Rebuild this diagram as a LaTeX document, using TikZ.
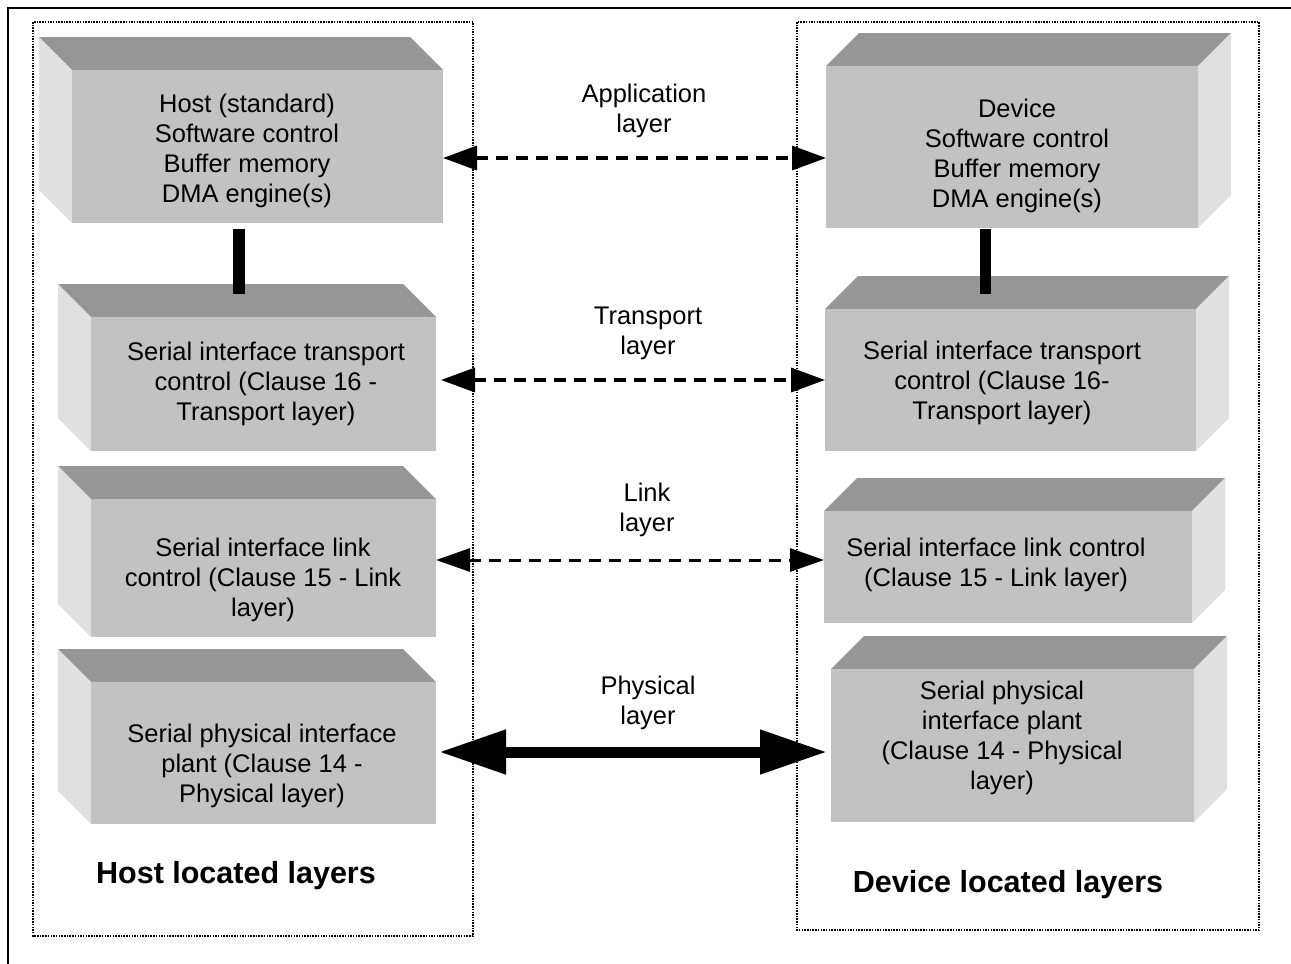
\documentclass[tikz,border=0pt]{standalone}
\usepackage{fontspec}
\setmainfont{Liberation Sans}
\usetikzlibrary{arrows.meta,calc}
\definecolor{topc}{gray}{0.59}
\definecolor{frontc}{gray}{0.76}
\definecolor{sidec}{gray}{0.88}
\tikzset{
  front/.style={fill=frontc, draw=none, inner sep=0pt, outer sep=0pt, rectangle},
  boxtext/.style={align=center, font=\fontsize{25.5}{30}\selectfont, inner sep=0pt, yshift=-3pt},
  sidetitle/.style={font=\fontsize{30.5}{36}\selectfont\bfseries, inner sep=0pt, yshift=-3pt},
  dotframe/.style={draw=black, line width=1.5pt, dash pattern=on 1.5pt off 1.2pt},
  dasharrow/.style={line width=3.5pt, dash pattern=on 12pt off 8pt,
    {Triangle[length=34pt,width=24pt]}-{Triangle[length=34pt,width=24pt]}},
  thinarrow/.style={line width=3pt, dash pattern=on 12pt off 8pt,
    {Triangle[length=34pt,width=23pt]}-{Triangle[length=34pt,width=23pt]}},
  bigarrow/.style={line width=11pt,
    {Triangle[length=67pt,width=42pt]}-{Triangle[length=67pt,width=42pt]}},
  vbar/.style={line width=12pt},
}
% box whose depth goes back-left: name, x1, y1, x2, y2 of the front face
\newcommand{\LBox}[5]{%
  \fill[topc] (#2,#3) -- (#2-33,#3-33) -- (#4-33,#3-33) -- (#4,#3) -- cycle;
  \fill[sidec] (#2,#3) -- (#2-33,#3-33) -- (#2-33,#5-33) -- (#2,#5) -- cycle;
  \node[front, minimum width={(#4-#2)*1pt}, minimum height={(#5-#3)*1pt}] (#1) at ({(#2+#4)/2},{(#3+#5)/2}) {};
}
% box whose depth goes back-right
\newcommand{\RBox}[5]{%
  \fill[topc] (#2,#3) -- (#2+33,#3-33) -- (#4+33,#3-33) -- (#4,#3) -- cycle;
  \fill[sidec] (#4,#3) -- (#4+33,#3-33) -- (#4+33,#5-33) -- (#4,#5) -- cycle;
  \node[front, minimum width={(#4-#2)*1pt}, minimum height={(#5-#3)*1pt}] (#1) at ({(#2+#4)/2},{(#3+#5)/2}) {};
}
\begin{document}
\begin{tikzpicture}[x=1pt,y=-1pt]
\useasboundingbox (0,0) rectangle (1291,964);
% outer frame (top and left edges)
\draw[line width=2pt] (8,964) -- (8,8) -- (1291,8);
% dotted groups
\draw[dotframe] (33,22) rectangle (473,936);
\draw[dotframe] (797,22) rectangle (1259,930);

% host boxes
\LBox{h1}{72}{70}{443}{223}
\LBox{h2}{91}{317}{436}{451}
\LBox{h3}{91}{499}{436}{637}
\LBox{h4}{91}{682}{436}{824}
% device boxes
\RBox{d1}{826}{66}{1198}{228}
\RBox{d2}{825}{309}{1196}{451}
\RBox{d3}{824}{511}{1192}{623}
\RBox{d4}{831}{669}{1194}{822}

% box texts
\node[boxtext] (h1t) at (247,148) {Host (standard)\\Software control\\Buffer memory\\DMA engine(s)};
\node[boxtext] (d1t) at (1017,153) {Device\\Software control\\Buffer memory\\DMA engine(s)};
\node[boxtext] (h2t) at (266,381) {Serial interface transport\\control (Clause 16 -\\Transport layer)};
\node[boxtext] (d2t) at (1002,380) {Serial interface transport\\control (Clause 16-\\Transport layer)};
\node[boxtext] (h3t) at (263,577) {Serial interface link\\control (Clause 15 - Link\\layer)};
\node[boxtext] (d3t) at (996,562) {Serial interface link control\\(Clause 15 - Link layer)};
\node[boxtext] (h4t) at (262,763) {Serial physical interface\\plant (Clause 14 -\\Physical layer)};
\node[boxtext] (d4t) at (1002,735) {Serial physical\\interface plant\\(Clause 14 - Physical\\layer)};

% layer labels
\node[boxtext] (la) at (644,108) {Application\\layer};
\node[boxtext] (lt) at (648,330) {Transport\\layer};
\node[boxtext] (ll) at (647,507) {Link\\layer};
\node[boxtext] (lp) at (648,700) {Physical\\layer};

% group titles
\node[sidetitle] (ht) at (236,873) {Host located layers};
\node[sidetitle] (dt) at (1008,882) {Device located layers};

% vertical connectors
\coordinate (hb) at (239,0);
\coordinate (db) at (985.5,0);
\draw[vbar] ($(hb |- h1.south)+(0,6)$) -- ($(hb |- h2.north)+(0,-23)$);
\draw[vbar, line width=11pt] ($(db |- d1.south)+(0,1)$) -- ($(db |- d2.north)+(0,-15)$);

% layer arrows
\coordinate (ya) at (0,158);
\coordinate (yt) at (0,380);
\coordinate (yl) at (0,560);
\coordinate (yp) at (0,752);
\draw[dasharrow] (h1.east |- ya) -- (d1.west |- ya);
\draw[dasharrow] ($(h2.east |- yt)+(5,0)$) -- (d2.west |- yt);
\draw[thinarrow] (h3.east |- yl) -- (d3.west |- yl);
\draw[bigarrow] ($(h4.east |- yp)+(3,0)$) -- ($(d4.west |- yp)+(-4,0)$);
\end{tikzpicture}
\end{document}
